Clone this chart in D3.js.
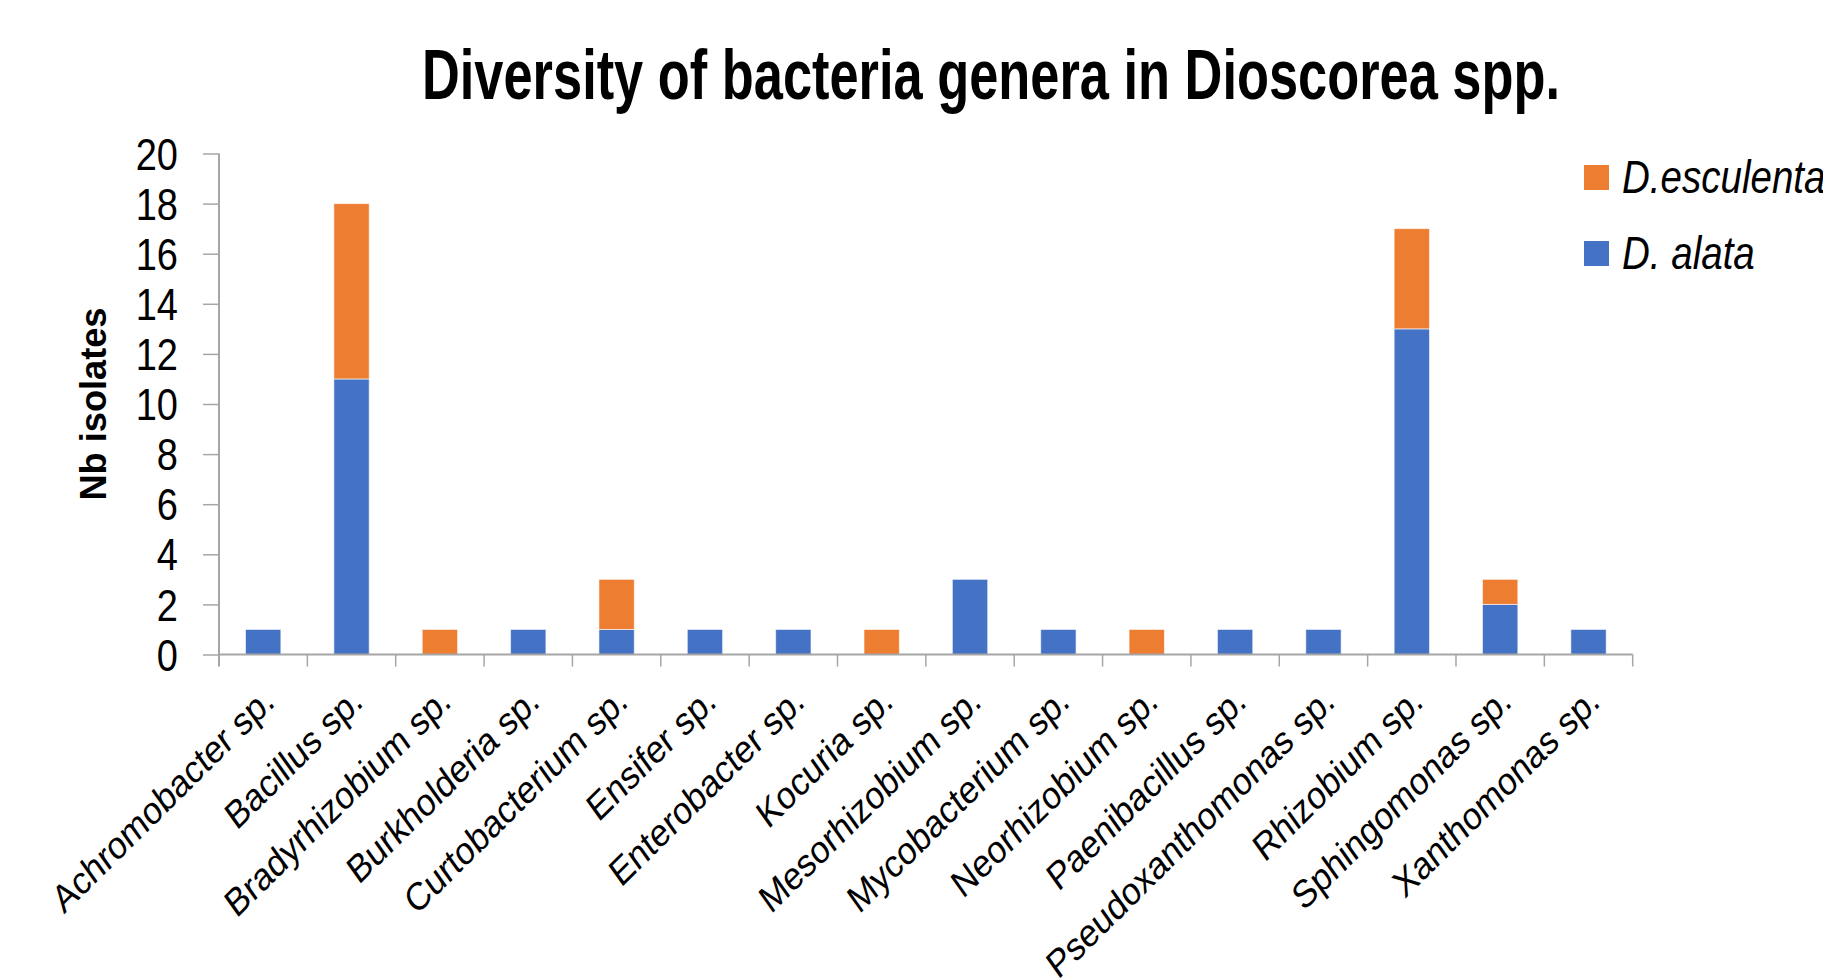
<!DOCTYPE html>
<html>
<head>
<meta charset="utf-8">
<script src="https://cdn.jsdelivr.net/npm/d3@7"></script>
<style>
  html, body { margin: 0; padding: 0; background: #ffffff; }
  svg { display: block; }
</style>
</head>
<body>
<svg id="chart" width="1823" height="979"></svg>
<script>
// Isolates per bacterial genus, split by yam species
const genera = [
  "Achromobacter sp.", "Bacillus sp.", "Bradyrhizobium sp.", "Burkholderia sp.",
  "Curtobacterium sp.", "Ensifer sp.", "Enterobacter sp.", "Kocuria sp.",
  "Mesorhizobium sp.", "Mycobacterium sp.", "Neorhizobium sp.", "Paenibacillus sp.",
  "Pseudoxanthomonas sp.", "Rhizobium sp.", "Sphingomonas sp.", "Xanthomonas sp."
];
const alata     = [1, 11, 0, 1, 1, 1, 1, 0, 3, 1, 0, 1, 1, 13, 2, 1];
const esculenta = [0, 7, 1, 0, 2, 0, 0, 1, 0, 0, 1, 0, 0, 4, 1, 0];
const seriesNames = ["D. alata", "D.esculenta"];
const seriesColors = ["#4472C4", "#ED7D31"];
const yTicks = [0, 2, 4, 6, 8, 10, 12, 14, 16, 18, 20];
const titleText = "Diversity of bacteria genera in Dioscorea spp.";
const yTitle = "Nb isolates";

const svg = d3.select("#chart");
const plot = { left: 219, right: 1632.7, top: 153.5, bottom: 654.5 };
// Text in this figure is drawn slightly tall and narrow
const stretch = 1.18;
const sans = "'Liberation Sans', Arial, sans-serif";

const x = d3.scaleBand()
  .domain(genera)
  .range([plot.left, plot.right])
  .paddingInner(0.6)
  .paddingOuter(0.3);

const y = d3.scaleLinear()
  .domain([0, 20])
  .range([plot.bottom, plot.top]);

// Stack the two series: D. alata at the base, D.esculenta on top
const rows = genera.map((g, i) => ({ genus: g, alata: alata[i], esculenta: esculenta[i] }));
const stacked = d3.stack().keys(["alata", "esculenta"])(rows);

const axisColor = "#A6A6A6";

// Title
svg.append("text")
  .attr("x", 991).attr("y", 99)
  .attr("text-anchor", "middle")
  .attr("font-family", sans)
  .attr("font-weight", "bold")
  .attr("font-size", 70)
  .attr("textLength", 1138)
  .attr("lengthAdjust", "spacingAndGlyphs")
  .attr("fill", "#000")
  .text(titleText);

// Bars
svg.append("g")
  .selectAll("g")
  .data(stacked)
  .join("g")
  .attr("fill", (d, i) => seriesColors[i])
  .selectAll("rect")
  .data(d => d.filter(s => s[1] - s[0] > 0))
  .join("rect")
  .attr("x", d => x(d.data.genus))
  .attr("width", x.bandwidth())
  .attr("y", d => y(d[1]))
  .attr("height", d => y(d[0]) - y(d[1]))
  .attr("stroke", "#ffffff")
  .attr("stroke-opacity", 0.6)
  .attr("stroke-width", 1);

// Y axis
const yAxis = svg.append("g")
  .attr("transform", `translate(${plot.left},0)`)
  .call(d3.axisLeft(y).tickValues(yTicks).tickSize(16).tickSizeOuter(0));
yAxis.select(".domain").remove();
yAxis.selectAll(".tick line").attr("stroke", axisColor).attr("stroke-width", 1.5);
yAxis.selectAll(".tick text").remove();
yAxis.selectAll(".tick").append("text")
  .attr("transform", `translate(-41,0) scale(1,${stretch})`)
  .attr("dy", "0.35em")
  .attr("text-anchor", "end")
  .attr("font-family", sans)
  .attr("font-size", 38)
  .attr("fill", "#000")
  .text(d => d);
svg.append("line")
  .attr("x1", plot.left).attr("x2", plot.left)
  .attr("y1", y(20)).attr("y2", plot.bottom + 12)
  .attr("stroke", axisColor).attr("stroke-width", 2);

// X axis baseline and category separators
svg.append("line")
  .attr("x1", plot.left).attr("x2", plot.right)
  .attr("y1", plot.bottom).attr("y2", plot.bottom)
  .attr("stroke", axisColor).attr("stroke-width", 2);
const bounds = genera.map(g => x(g) - x.step() * x.paddingOuter()).concat([plot.right]);
svg.append("g")
  .selectAll("line")
  .data(bounds.slice(1))
  .join("line")
  .attr("x1", d => d).attr("x2", d => d)
  .attr("y1", plot.bottom).attr("y2", plot.bottom + 12)
  .attr("stroke", axisColor).attr("stroke-width", 1.5);

// Category labels, rotated and drawn with the same vertical stretch
svg.append("g")
  .selectAll("text")
  .data(genera)
  .join("text")
  .attr("transform", g => `translate(${x(g) + x.bandwidth() / 2 + 13},${plot.bottom + 50}) scale(1,${stretch}) rotate(-40)`)
  .attr("text-anchor", "end")
  .attr("font-family", sans)
  .attr("font-size", 33)
  .attr("fill", "#000")
  .text(g => g);

// Y axis title
svg.append("text")
  .attr("transform", "translate(106,404) rotate(-90)")
  .attr("text-anchor", "middle")
  .attr("font-family", sans)
  .attr("font-weight", "bold")
  .attr("font-size", 37)
  .attr("textLength", 193)
  .attr("lengthAdjust", "spacingAndGlyphs")
  .attr("fill", "#000")
  .text(yTitle);

// Legend: D.esculenta above D. alata
const legendOrder = [1, 0];
const legend = svg.append("g")
  .selectAll("g")
  .data(legendOrder)
  .join("g")
  .attr("transform", (d, i) => `translate(1584,${165 + i * 76})`);
legend.append("rect")
  .attr("width", 25).attr("height", 25)
  .attr("fill", d => seriesColors[d]);
legend.append("text")
  .attr("transform", "translate(38,28) scale(0.82,1)")
  .attr("font-family", sans)
  .attr("font-style", "italic")
  .attr("font-size", 47)
  .attr("fill", "#000")
  .text(d => seriesNames[d]);
</script>
</body>
</html>
